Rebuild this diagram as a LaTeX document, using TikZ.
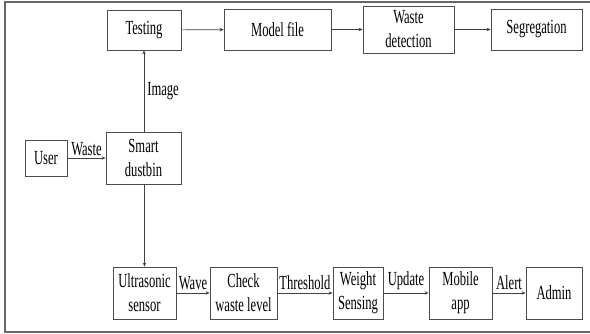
\documentclass[tikz,border=0pt]{standalone}
\usepackage{fontspec}
\setmainfont[FakeStretch=0.63]{Liberation Serif}
\usetikzlibrary{arrows.meta}
\begin{document}
\begin{tikzpicture}[x=1pt,y=-1pt,
  box/.style={draw=black!70, line width=0.8pt, rectangle, inner sep=0pt, align=center,
    font=\fontsize{20}{24}\selectfont},
  conn/.style={draw=black!75, line width=0.7pt, -{Stealth[length=4pt,width=3.5pt]}},
  lbl/.style={font=\fontsize{20}{24}\selectfont, inner sep=1pt}]
\useasboundingbox (0,0) rectangle (590,333);
\draw[black!60, line width=1.2pt] (590,2) -- (5,2) -- (5,332) -- (590,332);
\node[box, minimum width=74, minimum height=40] (test) at (144,30) {Testing};
\node[box, minimum width=107, minimum height=41] (model) at (277.5,29.5) {Model file};
\node[box, minimum width=91, minimum height=47] (detect) at (408.5,29.5) {Waste\\detection};
\node[box, minimum width=91, minimum height=41] (seg) at (536.5,29.5) {Segregation};
\node[box, minimum width=42, minimum height=36] (user) at (46,158) {User};
\node[box, minimum width=75, minimum height=52] (bin) at (143.5,158) {Smart\\dustbin};
\node[box, minimum width=63, minimum height=52] (ultra) at (144.5,293) {Ultrasonic\\sensor};
\node[box, minimum width=67, minimum height=52] (check) at (243.5,293) {Check\\waste level};
\node[box, minimum width=50, minimum height=52] (weight) at (358,293) {Weight\\Sensing};
\node[box, minimum width=63, minimum height=52] (mobile) at (460.5,293) {Mobile\\app};
\node[box, minimum width=56, minimum height=52] (admin) at (554,293) {Admin};
\draw[conn] (test) -- (model);
\draw[conn] (model) -- (detect);
\draw[conn] (detect) -- (seg);
\draw[conn] (user) -- node[lbl, above=1pt] {Waste} (bin);
\draw[conn] (bin.north -| test.south) -- node[lbl, right=2pt] {Image} (test.south);
\draw[conn] (bin.south -| ultra.north) -- (ultra.north);
\draw[conn] (ultra) -- node[lbl, above=2pt] {Wave} (check);
\draw[conn] (check) -- node[lbl, above=2pt] {Threshold} (weight);
\draw[conn] (weight) -- node[lbl, above=2pt] {Update} (mobile);
\draw[conn] (mobile) -- node[lbl, above=2pt] {Alert} (admin);
\end{tikzpicture}
\end{document}
